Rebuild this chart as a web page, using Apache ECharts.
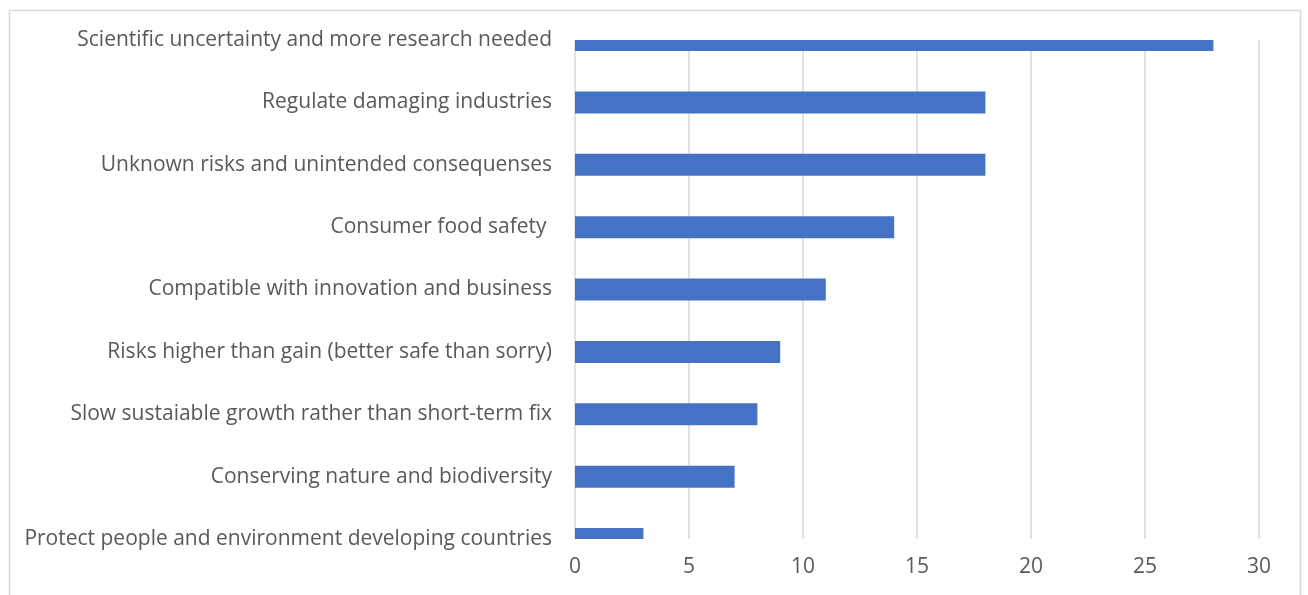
<!DOCTYPE html>
<html>
<head>
<meta charset="utf-8">
<script src="https://cdn.jsdelivr.net/npm/echarts@6/dist/echarts.min.js"></script>
<style>
html,body{margin:0;padding:0;background:#fff;}
#chart{width:1308px;height:595px;}
</style>
</head>
<body>
<div id="chart"></div>
<script>
const categories = [
  "Scientific uncertainty and more research needed",
  "Regulate damaging industries",
  "Unknown risks and unintended consequenses",
  "Consumer food safety ",
  "Compatible with innovation and business",
  "Risks higher than gain (better safe than sorry)",
  "Slow sustaiable growth rather than short-term fix",
  "Conserving nature and biodiversity",
  "Protect people and environment developing countries"
];
const values = [28, 18, 18, 14, 11, 9, 8, 7, 3];
const xTicks = { min: 0, max: 30, interval: 5 };

const chart = echarts.init(document.getElementById('chart'), null, {renderer: 'canvas'});
const font = '"Open Sans", sans-serif';
const BAR_H = 22;
chart.setOption({
  animation: false,
  graphic: [{
    type: 'rect',
    shape: {x: 9.5, y: 10.5, width: 1291, height: 620},
    style: {fill: 'none', stroke: '#d9d9d9', lineWidth: 1.5},
    silent: true
  }],
  grid: {left: 575, right: 49, top: 40, bottom: 56, containLabel: false},
  xAxis: {
    type: 'value',
    min: xTicks.min, max: xTicks.max, interval: xTicks.interval,
    axisLine: {show: false},
    axisTick: {show: false},
    splitLine: {show: true, lineStyle: {color: '#d9d9d9', width: 1.5}},
    axisLabel: {color: '#595959', fontSize: 21, fontFamily: font, margin: 18}
  },
  yAxis: {
    type: 'category',
    data: categories,
    inverse: true,
    boundaryGap: false,
    axisLine: {show: false},
    axisTick: {show: false},
    splitLine: {show: false},
    axisLabel: {color: '#595959', fontSize: 21, fontFamily: font, margin: 23}
  },
  series: [{
    type: 'custom',
    data: values.map((v, i) => [v, i]),
    encode: {x: 0, y: 1},
    clip: true,
    renderItem: function (params, api) {
      const start = api.coord([0, api.value(1)]);
      const end = api.coord([api.value(0), api.value(1)]);
      const cs = params.coordSys;
      const rect = echarts.graphic.clipRectByRect(
        {x: start[0], y: start[1] - BAR_H / 2, width: end[0] - start[0], height: BAR_H},
        {x: cs.x, y: cs.y, width: cs.width, height: cs.height + 2}
      );
      return rect && {type: 'rect', shape: rect, style: {fill: '#4472C4'}};
    }
  }]
});
</script>
</body>
</html>
